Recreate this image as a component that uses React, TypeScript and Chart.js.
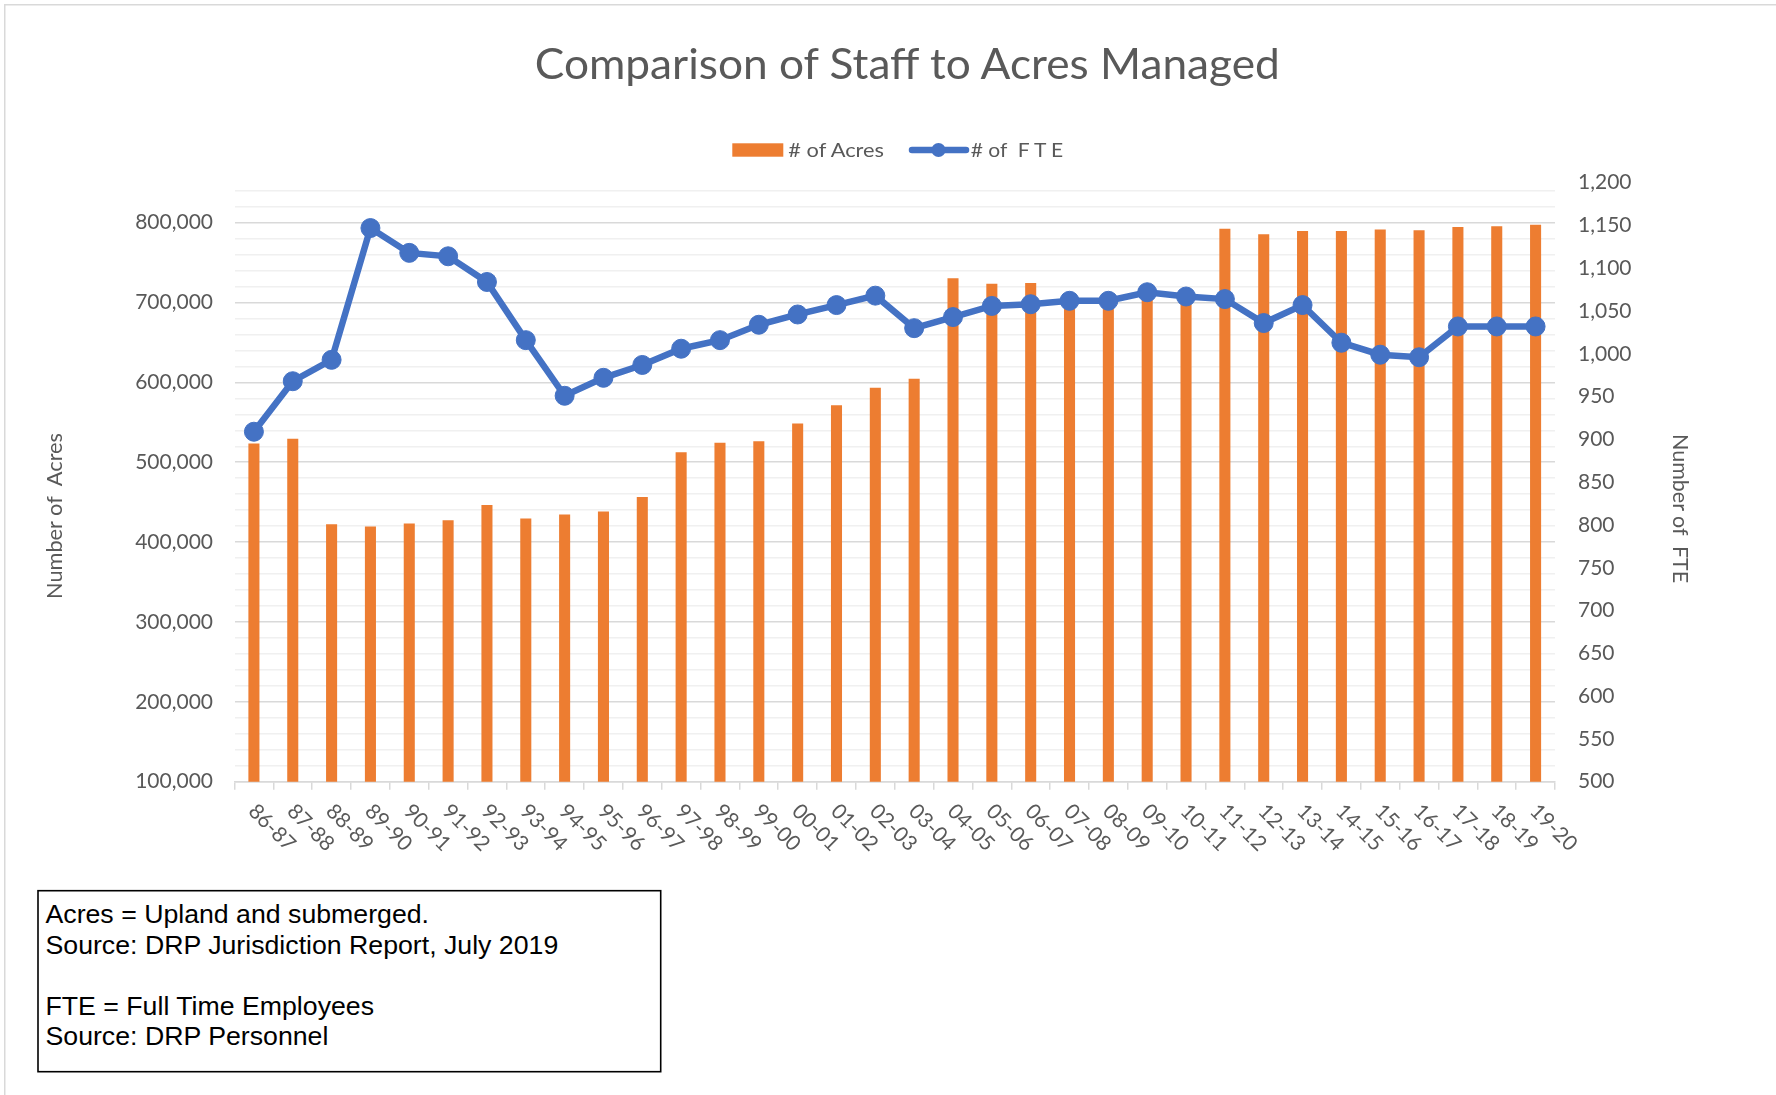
import React, { useEffect, useRef } from 'react';
import { Chart, registerables } from 'chart.js';

Chart.register(...registerables);

// ---------- data ----------
const categories = [
  '86-87', '87-88', '88-89', '89-90', '90-91', '91-92', '92-93', '93-94', '94-95', '95-96',
  '96-97', '97-98', '98-99', '99-00', '00-01', '01-02', '02-03', '03-04', '04-05', '05-06',
  '06-07', '07-08', '08-09', '09-10', '10-11', '11-12', '12-13', '13-14', '14-15', '15-16',
  '16-17', '17-18', '18-19', '19-20',
];

const acres = [
  523000, 529000, 422000, 419000, 423000, 427000, 446000, 429000, 434000, 438000,
  456000, 512000, 524000, 526000, 548000, 571000, 593000, 604000, 730000, 723000,
  724000, 703000, 705000, 712000, 708000, 792000, 785000, 789000, 789000, 791000,
  790000, 794000, 795000, 797000,
];

const fte = [
  909, 968, 993, 1147, 1118, 1114, 1084, 1016, 951, 972,
  987, 1006, 1016, 1034, 1046, 1057, 1068, 1030, 1043, 1056,
  1058, 1062, 1062, 1072, 1067, 1064, 1036, 1057, 1013, 999,
  996, 1032, 1032, 1032,
];

const seriesNames = ['# of Acres', '# of  F T E'];
const chartTitle = 'Comparison of Staff to Acres Managed';
const leftAxisTitle = 'Number of  Acres';
const rightAxisTitle = 'Number of  FTE';
const noteLines = [
  'Acres = Upland and submerged.',
  'Source: DRP Jurisdiction Report, July 2019',
  '',
  'FTE = Full Time Employees',
  'Source: DRP Personnel',
];

// left axis: gridlines every 20,000 (minor) with labels every 100,000
const leftMin = 100000;
const leftMax = 850000;
const leftGridValues = [
  100000, 120000, 140000, 160000, 180000, 200000, 220000, 240000, 260000, 280000,
  300000, 320000, 340000, 360000, 380000, 400000, 420000, 440000, 460000, 480000,
  500000, 520000, 540000, 560000, 580000, 600000, 620000, 640000, 660000, 680000,
  700000, 720000, 740000, 760000, 780000, 800000, 820000, 840000,
];
const leftLabelValues = [100000, 200000, 300000, 400000, 500000, 600000, 700000, 800000];

const rightMin = 500;
const rightMax = 1200;
const rightStep = 50;

// ---------- styles ----------
const W = 1776;
const H = 1095;
const ORANGE = '#ED7D31';
const BLUE = '#4472C4';
const TEXT = '#595959';
const FONT = 'Lato';

const xLabelPlugin = {
  id: 'xLabelsRotated',
  afterDraw(chart: any) {
    const { ctx, scales, chartArea } = chart;
    const x = scales.x;
    ctx.save();
    ctx.font = `21px ${FONT}`;
    ctx.fillStyle = TEXT;
    ctx.textAlign = 'left';
    ctx.textBaseline = 'middle';
    categories.forEach((lab, i) => {
      const px = x.getPixelForValue(i);
      ctx.save();
      ctx.translate(px - 2, chartArea.bottom + 26);
      ctx.rotate(Math.PI / 4);
      ctx.fillText(lab, 0, 0);
      ctx.restore();
    });
    ctx.restore();
  },
};

export default function App() {
  const ref = useRef<HTMLCanvasElement>(null);

  useEffect(() => {
    const canvas = ref.current;
    if (!canvas) return;
    const chart = new Chart(canvas, {
      type: 'bar',
      data: {
        labels: categories,
        datasets: [
          {
            type: 'line',
            label: seriesNames[1],
            data: fte,
            yAxisID: 'y1',
            borderColor: BLUE,
            backgroundColor: BLUE,
            borderWidth: 6.5,
            pointRadius: 9.5,
            pointBorderWidth: 1,
            pointBackgroundColor: BLUE,
            pointBorderColor: BLUE,
            tension: 0,
            order: 0,
          } as any,
          {
            type: 'bar',
            label: seriesNames[0],
            data: acres,
            yAxisID: 'y',
            backgroundColor: ORANGE,
            barThickness: 10.4,
            order: 1,
          } as any,
        ],
      },
      options: {
        animation: false,
        responsive: false,
        devicePixelRatio: 1,
        layout: { padding: { top: 182.7, left: 0, right: 0, bottom: 0 } },
        plugins: {
          legend: { display: false },
          tooltip: { enabled: false },
          title: { display: false },
        },
        scales: {
          x: {
            type: 'category',
            offset: true,
            grid: {
              offset: true,
              drawOnChartArea: false,
              drawTicks: true,
              tickLength: 8,
              color: '#d9d9d9',
              lineWidth: 1.5,
            },
            border: { display: true, color: '#d9d9d9', width: 1.5 },
            ticks: { display: false },
            afterFit: (s: any) => { s.height = H - 781.7; },
          },
          y: {
            type: 'linear',
            position: 'left',
            min: leftMin,
            max: leftMax,
            border: { display: false },
            grid: {
              drawTicks: false,
              color: (c: any) => {
                const v = c.tick ? c.tick.value : undefined;
                if (v === undefined) return 'rgba(0,0,0,0)';
                return leftLabelValues.includes(v) ? '#d9d9d9' : '#f0f0f0';
              },
              lineWidth: 1.5,
            },
            ticks: {
              autoSkip: false,
              padding: 21.5,
              color: TEXT,
              font: { family: FONT, size: 21 },
              callback: (v: any) => (leftLabelValues.includes(Number(v)) ? Number(v).toLocaleString('en-US') : ''),
            },
            afterBuildTicks: (s: any) => { s.ticks = leftGridValues.map((v) => ({ value: v })); },
            afterFit: (s: any) => { s.width = 234.5; },
          },
          y1: {
            type: 'linear',
            position: 'right',
            min: rightMin,
            max: rightMax,
            border: { display: false },
            grid: { display: false, drawTicks: false },
            ticks: {
              stepSize: rightStep,
              autoSkip: false,
              padding: 23,
              color: TEXT,
              font: { family: FONT, size: 21 },
              callback: (v: any) => Number(v).toLocaleString('en-US'),
            },
            afterFit: (s: any) => { s.width = W - 1555; },
          },
        },
      },
      plugins: [xLabelPlugin],
    });
    return () => chart.destroy();
  }, []);

  const noteBaselines = [923, 953.5, 984, 1014.5, 1045];

  return (
    <div style={{ position: 'absolute', left: 0, top: 0, width: W, height: H, background: '#fff', overflow: 'hidden' }}>
      <canvas ref={ref} width={W} height={H} style={{ position: 'absolute', left: 0, top: 0, width: W, height: H }} />
      <svg width={W} height={H} style={{ position: 'absolute', left: 0, top: 0, pointerEvents: 'none' }}>
        <line x1={4} y1={4.75} x2={W} y2={4.75} stroke="#d9d9d9" strokeWidth={1.5} />
        <line x1={4.75} y1={4} x2={4.75} y2={H} stroke="#d9d9d9" strokeWidth={1.5} />

        <text x={907.3} y={79.3} textAnchor="middle" fontFamily={FONT} fontSize={42} fill={TEXT}
          textLength={745} lengthAdjust="spacingAndGlyphs">{chartTitle}</text>

        <rect x={732.3} y={143.3} width={51} height={13.4} fill={ORANGE} />
        <text x={788.3} y={157.3} fontFamily={FONT} fontSize={20} fill={TEXT} style={{ whiteSpace: 'pre' }}
          textLength={95.7} lengthAdjust="spacingAndGlyphs">{seriesNames[0]}</text>
        <line x1={912} y1={150} x2={966} y2={150} stroke={BLUE} strokeWidth={6.5} strokeLinecap="round" />
        <circle cx={938.5} cy={150} r={7} fill={BLUE} />
        <text x={970.7} y={157.3} fontFamily={FONT} fontSize={20} fill={TEXT} style={{ whiteSpace: 'pre' }}
          textLength={92.6} lengthAdjust="spacingAndGlyphs">{seriesNames[1]}</text>

        <text transform="translate(62,516) rotate(-90)" textAnchor="middle" fontFamily={FONT} fontSize={22} fill={TEXT}
          style={{ whiteSpace: 'pre' }} textLength={166} lengthAdjust="spacingAndGlyphs">{leftAxisTitle}</text>
        <text transform="translate(1672.5,508.6) rotate(90)" textAnchor="middle" fontFamily={FONT} fontSize={22} fill={TEXT}
          style={{ whiteSpace: 'pre' }} textLength={149} lengthAdjust="spacingAndGlyphs">{rightAxisTitle}</text>

        <rect x={38} y={890.7} width={622.7} height={181} fill="#fff" stroke="#000" strokeWidth={1.6} />
        {noteLines.map((t, i) => (
          <text key={i} x={45.5} y={noteBaselines[i]} fontFamily="'Liberation Sans', Arial, sans-serif" fontSize={26.7} fill="#000">{t}</text>
        ))}
      </svg>
    </div>
  );
}
